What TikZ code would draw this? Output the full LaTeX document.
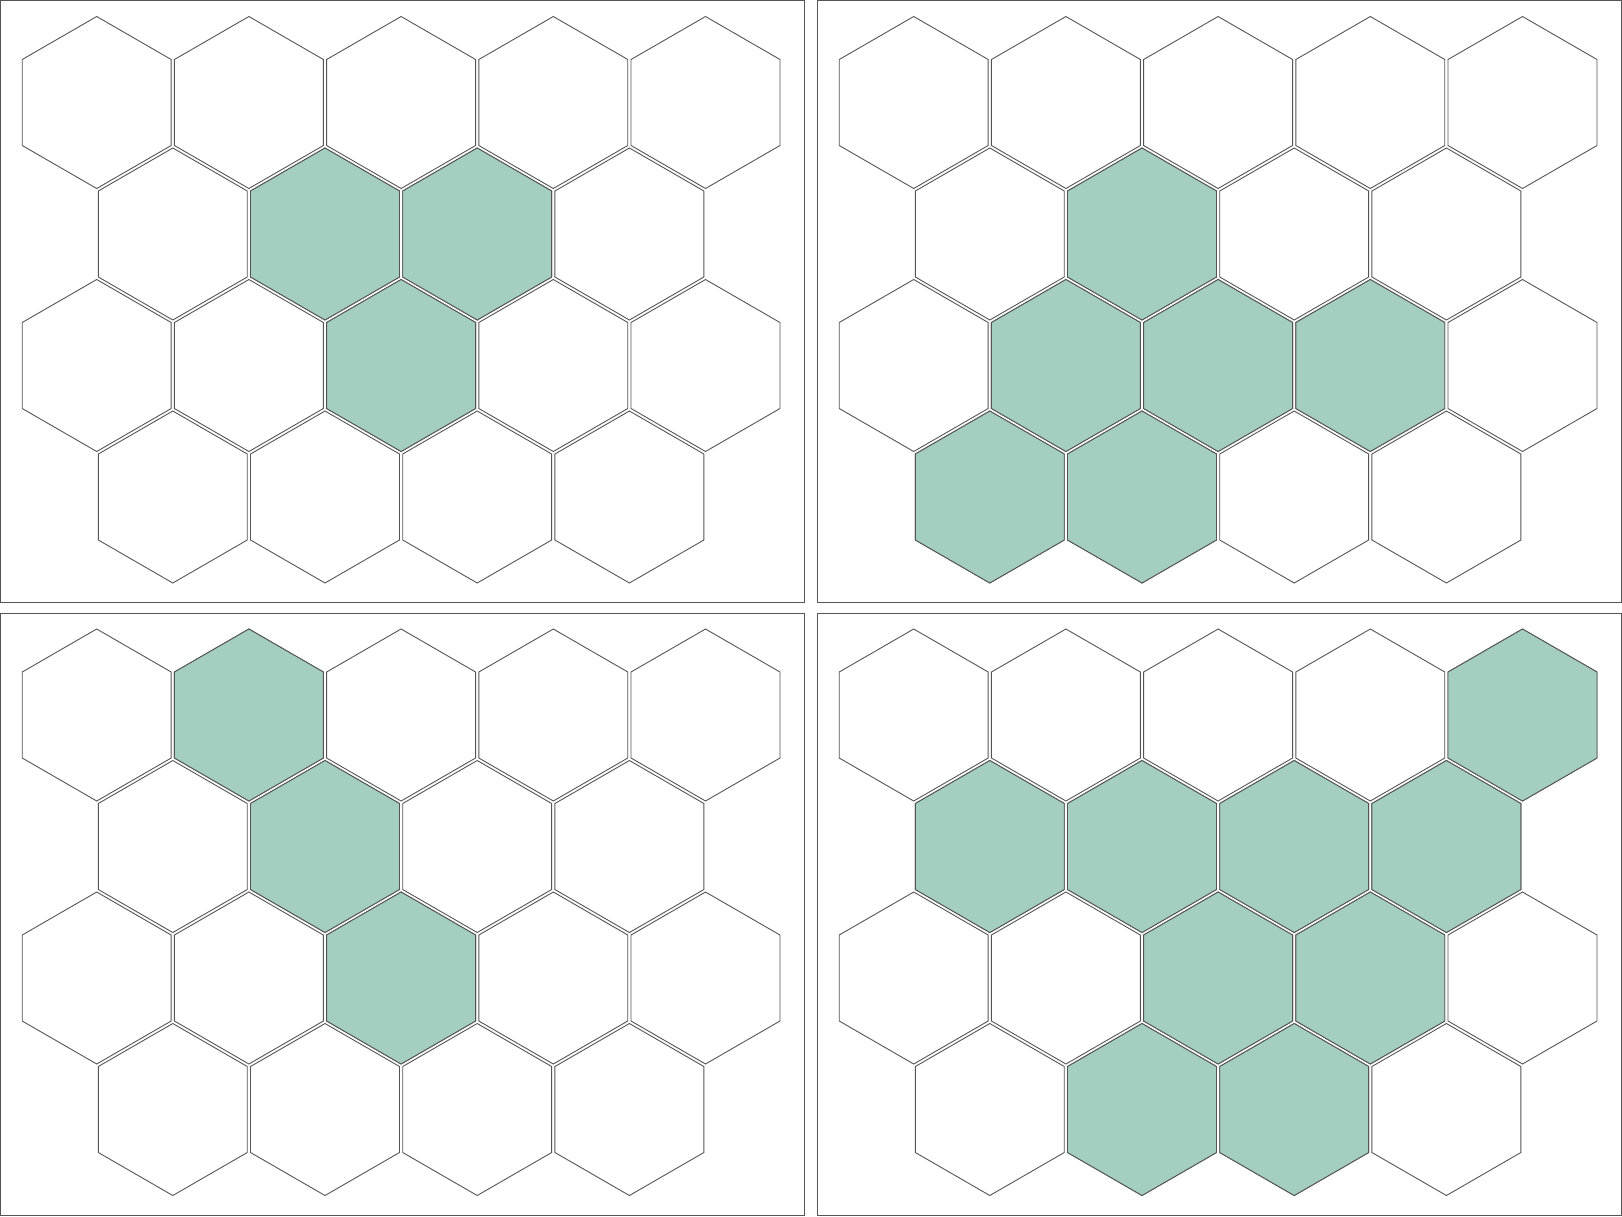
\documentclass[tikz,border=0pt]{standalone}
\definecolor{hexfill}{HTML}{A4CEC0}
\definecolor{hexline}{HTML}{555555}
\tikzset{
  hexcell/.style={draw=hexline,line width=0.9pt,line join=miter},
  hexon/.style={hexcell,fill=hexfill},
  panelframe/.style={draw=hexline,line width=1pt}
}
\newcommand{\hexshape}[3]{% style, cx, cy
  \draw[#1,shift={(#2,#3)}] (90:86) -- (30:86) -- (-30:86) -- (-90:86) -- (-150:86) -- (150:86) -- cycle;
}
\newcommand{\hexpanel}[3]{%
  \begin{scope}[shift={(#1,#2)}]
    \draw[panelframe] (0.5,0.5) rectangle (804,602.5);
    \foreach \r/\n in {0/4,1/3,2/4,3/3} {
      \foreach \c in {0,...,\n} {
        \pgfmathsetmacro\cx{96.7+\c*152.2+mod(\r,2)*76.1}
        \pgfmathsetmacro\cy{102.5+\r*131.5}
        \hexshape{hexcell}{\cx}{\cy}
      }
    }
    \foreach \r/\c in {#3} {
      \pgfmathsetmacro\cx{96.7+\c*152.2+mod(\r,2)*76.1}
      \pgfmathsetmacro\cy{102.5+\r*131.5}
      \hexshape{hexon}{\cx}{\cy}
    }
  \end{scope}
}
\begin{document}
\begin{tikzpicture}[x=1pt,y=-1pt]
  \useasboundingbox (0,0) rectangle (1622,1216);
  \hexpanel{0}{0}{1/1,1/2,2/2}
  \hexpanel{817}{0}{1/1,2/1,2/2,2/3,3/0,3/1}
  \hexpanel{0}{612.5}{0/1,1/1,2/2}
  \hexpanel{817}{612.5}{0/4,1/0,1/1,1/2,1/3,2/2,2/3,3/1,3/2}
\end{tikzpicture}
\end{document}
